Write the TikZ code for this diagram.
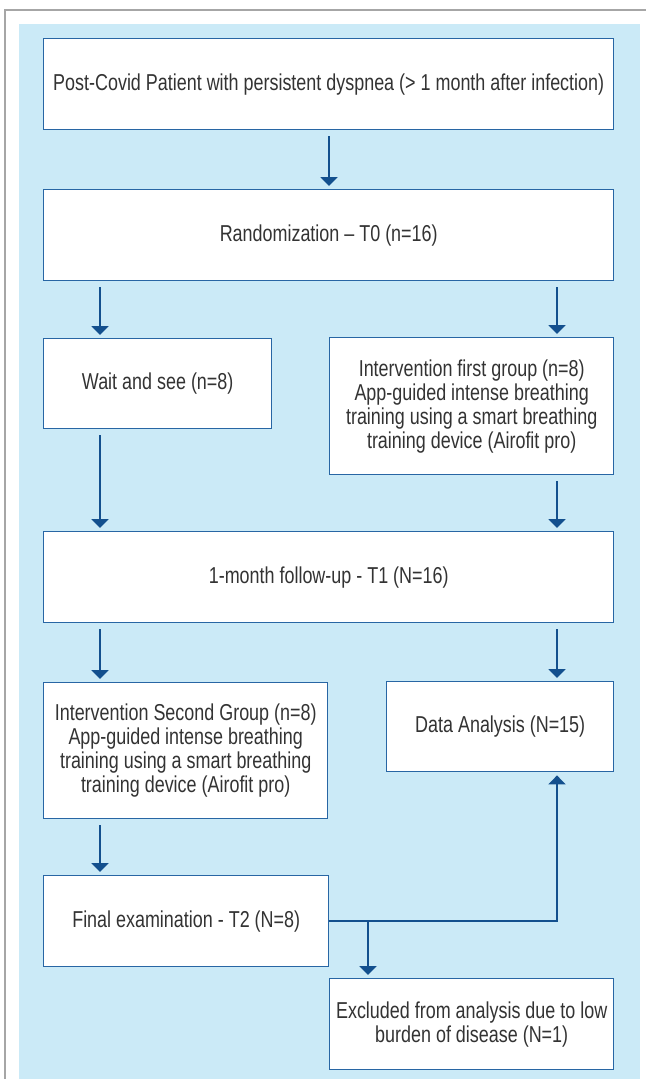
\documentclass[tikz,border=0pt]{standalone}
\usepackage{fontspec}
\setmainfont{Liberation Sans}[FakeStretch=0.78]
\usepackage{xcolor}
\usetikzlibrary{positioning, arrows.meta}
\definecolor{fBack}{HTML}{CBEAF7}
\definecolor{fEdge}{HTML}{2866A4}
\definecolor{fArrow}{HTML}{13508E}
\definecolor{fInk}{HTML}{333333}
\definecolor{fFrame}{HTML}{A6A6A6}

\begin{document}
\begin{tikzpicture}[x=1pt, y=-1pt, >={Triangle[width=17pt,length=9pt]},
  box/.style={draw=fEdge, line width=1.4pt, fill=white, text=fInk, align=center,
    anchor=north west, inner sep=0pt, font=\fontsize{23}{24}\selectfont},
  flow/.style={->, line width=2pt, fArrow, shorten <=6pt, shorten >=3pt}]
  \useasboundingbox (0,0) rectangle (646,1079);
  % panel and frame
  \fill[fBack] (19,24) rectangle (640,1079);
  \draw[fFrame, line width=2pt] (4.5,1079) -- (4.5,10) -- (646,10);
  % columns of the arrows
  \coordinate (mcol) at (329,0);
  \coordinate (lcol) at (100,0);
  \coordinate (rcol) at (557,0);
  \coordinate (xcol) at (368,0);

  \node[box, minimum width=570pt, minimum height=91pt] (patient) at (43,38)
    {Post-Covid Patient with persistent dyspnea (> 1 month after infection)};
  \node[box, minimum width=570pt, minimum height=91pt] (rand) at (43,189)
    {Randomization -- T0 (n=16)};
  \node[box, minimum width=228pt, minimum height=90pt] (wait) at (43,338)
    {Wait and see (n=8)};
  \node[box, minimum width=284pt, minimum height=137pt] (first) at (329,337)
    {Intervention first group (n=8)\\App-guided intense breathing\\training using a smart breathing\\training device (Airofit pro)};
  \node[box, minimum width=570pt, minimum height=91pt] (follow) at (43,531)
    {1-month follow-up - T1 (N=16)};
  \node[box, minimum width=284pt, minimum height=136pt] (second) at (43,682)
    {Intervention Second Group (n=8)\\App-guided intense breathing\\training using a smart breathing\\training device (Airofit pro)};
  \node[box, minimum width=227pt, minimum height=90pt] (data) at (386,681)
    {Data Analysis (N=15)};
  \node[box, minimum width=285pt, minimum height=91pt] (final) at (43,875)
    {Final examination - T2 (N=8)};
  \node[box, minimum width=284pt, minimum height=91pt] (excl) at (329,978)
    {Excluded from analysis due to low\\burden of disease (N=1)};

  \draw[flow] (patient.south -| mcol) -- (rand.north -| mcol);
  \draw[flow] (rand.south -| lcol) -- (wait.north -| lcol);
  \draw[flow] (rand.south -| rcol) -- (first.north -| rcol);
  \draw[flow] (wait.south -| lcol) -- (follow.north -| lcol);
  \draw[flow] (first.south -| rcol) -- (follow.north -| rcol);
  \draw[flow] (follow.south -| lcol) -- (second.north -| lcol);
  \draw[flow] (follow.south -| rcol) -- (data.north -| rcol);
  \draw[flow] (second.south -| lcol) -- (final.north -| lcol);
  \draw[flow, shorten <=0pt] (final.east) -| (data.south -| rcol);
  \draw[flow, shorten <=0pt] (final.east -| xcol) -- (excl.north -| xcol);
\end{tikzpicture}
\end{document}
